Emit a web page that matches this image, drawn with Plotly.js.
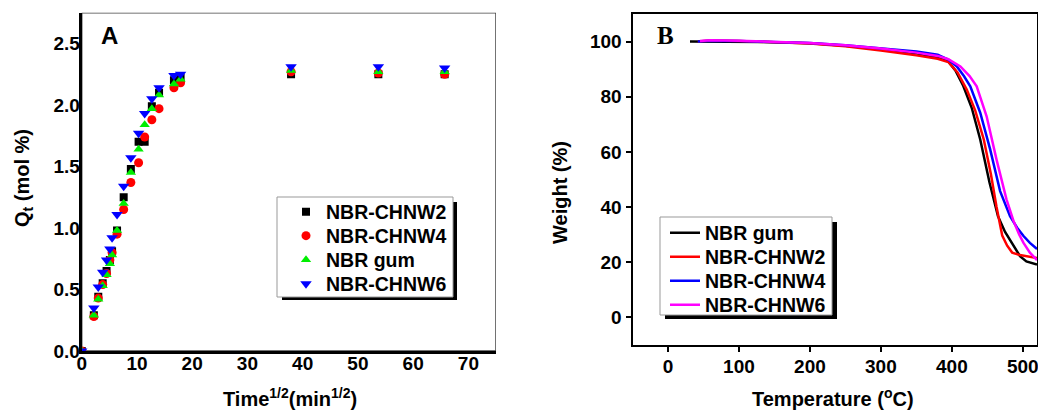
<!DOCTYPE html>
<html>
<head>
<meta charset="utf-8">
<script src="https://cdn.plot.ly/plotly-3.0.1.min.js"></script>
<style>html,body{margin:0;padding:0;background:#fff;}#chart{width:1038px;height:411px;}</style>
</head>
<body>
<div id="chart"></div>
<script>
// ---------- Panel A data (sorption, Time^1/2 in min^1/2) ----------
const timeA = [0, 2.2, 3.0, 3.8, 4.5, 5.1, 5.5, 6.4, 7.6, 8.9, 10.3, 11.4, 12.7, 14.0, 16.7, 17.9, 37.9, 53.7, 65.7];
const chnw2A = [0, 0.29, 0.44, 0.55, 0.65, 0.74, 0.81, 0.98, 1.25, 1.48, 1.70, 1.70, 1.99, 2.10, 2.20, 2.22, 2.25, 2.25, 2.25];
const chnw4A = [0, 0.28, 0.43, 0.54, 0.63, 0.74, 0.80, 0.95, 1.15, 1.37, 1.53, 1.74, 1.88, 1.97, 2.14, 2.18, 2.27, 2.26, 2.25];
const gumA   = [0, 0.29, 0.42, 0.53, 0.62, 0.71, 0.78, 0.98, 1.20, 1.45, 1.64, 1.84, 1.97, 2.08, 2.17, 2.21, 2.28, 2.27, 2.27];
const chnw6A = [0, 0.35, 0.52, 0.64, 0.74, 0.83, 0.92, 1.11, 1.34, 1.57, 1.77, 1.93, 2.05, 2.14, 2.24, 2.25, 2.31, 2.31, 2.30];
const namesA = ["NBR-CHNW2", "NBR-CHNW4", "NBR gum", "NBR-CHNW6"];

// ---------- Panel B data (TGA) ----------
const tempGum = [31, 50, 100, 150, 200, 250, 300, 350, 380, 395, 405, 416, 428, 440, 453, 465, 475, 482, 490, 496, 505, 520];
const wGum    = [100, 100, 100, 99.8, 99.4, 98.5, 97.3, 95.8, 94.3, 92.8, 89.5, 84, 76, 64.5, 49, 36.7, 31, 28, 24.5, 22.2, 20.3, 19.2];
const tempC2  = [42, 60, 100, 150, 200, 250, 300, 350, 380, 395, 408, 421, 433, 445, 455, 463, 471, 478, 485, 496, 508, 520];
const wC2     = [100, 100.4, 100.2, 99.8, 99.3, 98.3, 96.8, 95, 93.8, 92.6, 88.8, 82.6, 75, 64.5, 52, 40, 29.7, 26, 23.5, 22.6, 22, 21.5];
const tempC4  = [42, 60, 100, 150, 200, 250, 300, 350, 380, 395, 407, 417, 426, 440, 454, 468, 482, 492, 501, 510, 520];
const wC4     = [100, 100.3, 100.2, 99.9, 99.5, 98.7, 97.6, 96.4, 95.2, 93.5, 91, 87.5, 83.8, 74.2, 60.9, 45.8, 36.7, 32.5, 29.5, 27, 24.8];
const tempC6  = [45, 60, 100, 150, 200, 250, 300, 350, 380, 395, 412, 425, 435, 449, 463, 477, 487, 495, 501, 510, 520];
const wC6     = [100.2, 100.5, 100.3, 100, 99.5, 98.7, 97.5, 96, 94.8, 93.6, 91, 87.5, 83.8, 72.9, 57.2, 42.8, 34.9, 30, 27, 23.5, 20.8];
const namesB = ["NBR gum", "NBR-CHNW2", "NBR-CHNW4", "NBR-CHNW6"];

const W = 1038, H = 411;
const fx = p => p / W;
const fy = p => 1 - p / H;
const SANS = "Liberation Sans, Arial, sans-serif";
const tickFont = {family: SANS, size: 19, color: "#000", weight: "bold"};
const legFont = {family: SANS, size: 19.5, color: "#000", weight: "bold"};

const mk = (x, y, name, color, symbol, size, leg) => ({
  x, y, name, type: "scatter", mode: "markers", xaxis: "x", yaxis: "y", legend: leg,
  marker: {color, symbol, size, line: {width: 0}}
});
const ln = (x, y, name, color, leg) => ({
  x, y, name, type: "scatter", mode: "lines", xaxis: "x2", yaxis: "y2", legend: leg,
  line: {color, width: 2.5}
});

const data = [
  mk(timeA, chnw2A, namesA[0], "#000000", "square", 8, "legend"),
  mk(timeA, chnw4A, namesA[1], "#ff0000", "circle", 9, "legend2"),
  mk(timeA, gumA,   namesA[2], "#00ee00", "triangle-up", 9, "legend3"),
  mk(timeA, chnw6A, namesA[3], "#0000ff", "triangle-down", 10, "legend4"),
  ln(tempGum, wGum, namesB[0], "#000000", "legend5"),
  ln(tempC2,  wC2,  namesB[1], "#ff0000", "legend6"),
  ln(tempC4,  wC4,  namesB[2], "#0000ff", "legend7"),
  ln(tempC6,  wC6,  namesB[3], "#ff00ff", "legend8")
];

function rectPx(x0, y0, x1, y1, fill, lineColor, lw) {
  return {type: "rect", xref: "paper", yref: "paper", layer: "above",
    x0: fx(x0), x1: fx(x1), y0: fy(y1), y1: fy(y0),
    fillcolor: fill, line: {color: lineColor, width: lw}};
}
function legAt(xPx, yPx) {
  return {x: fx(xPx), y: fy(yPx), xanchor: "left", yanchor: "middle", bgcolor: "rgba(0,0,0,0)",
    borderwidth: 0, font: legFont, tracegroupgap: 0};
}

const layout = {
  width: W, height: H,
  margin: {l: 0, r: 0, t: 0, b: 0},
  paper_bgcolor: "#ffffff", plot_bgcolor: "#ffffff",
  showlegend: true,
  xaxis: {domain: [fx(81.7), fx(496)], range: [0, 75], anchor: "y",
    showline: true, linecolor: "#000", linewidth: 3, ticks: "", dtick: 10, tick0: 0,
    showgrid: false, zeroline: false, tickfont: tickFont, ticklabelstandoff: -7},
  yaxis: {domain: [fy(351), fy(12.7)], range: [0, 2.75], anchor: "x",
    showline: true, linecolor: "#000", linewidth: 3, ticks: "", dtick: 0.5, tick0: 0, tickformat: ".1f",
    showgrid: false, zeroline: false, tickfont: tickFont, ticklabelstandoff: -5},
  xaxis2: {domain: [fx(632.5), fx(1037)], range: [-50, 520], anchor: "y2",
    showline: true, mirror: true, linecolor: "#000", linewidth: 2, ticks: "outside", ticklen: 5, tickwidth: 2, tickcolor: "#000",
    dtick: 100, tick0: 0, showgrid: false, zeroline: false, tickfont: tickFont, ticklabeloverflow: "allow",
    ticklabelstandoff: -2},
  yaxis2: {domain: [fy(345), fy(14)], range: [-10, 110], anchor: "x2",
    showline: true, mirror: true, linecolor: "#000", linewidth: 2, ticks: "outside", ticklen: 5, tickwidth: 2, tickcolor: "#000",
    dtick: 20, tick0: 0, showgrid: false, zeroline: false, tickfont: tickFont},
  legend:  legAt(286, 212),
  legend2: legAt(286, 236),
  legend3: legAt(286, 260),
  legend4: legAt(286, 284),
  legend5: legAt(665, 233),
  legend6: legAt(665, 257),
  legend7: legAt(665, 281),
  legend8: legAt(665, 305),
  shapes: [
    // panel A thin frame (top / right)
    {type: "rect", xref: "x", yref: "y", x0: 0, x1: 75, y0: 0, y1: 2.75, layer: "below", line: {color: "#444", width: 1.5}},
    // legend A shadow + box
    rectPx(282, 202, 457, 300, "#000", "#000", 0),
    rectPx(277, 197, 453, 297, "#fff", "#999", 1),
    // legend B shadow + box
    rectPx(665, 222, 837, 319, "#000", "#000", 0),
    rectPx(660, 217, 832, 315, "#fff", "#999", 1)
  ],
  annotations: [
    {text: "A", xref: "paper", yref: "paper", x: fx(109), y: fy(35), showarrow: false, xanchor: "center", yanchor: "middle",
      font: {family: SANS, size: 24, color: "#000", weight: "bold"}},
    {text: "B", xref: "paper", yref: "paper", x: fx(665), y: fy(35), showarrow: false, xanchor: "center", yanchor: "middle",
      font: {family: "Liberation Serif, Times New Roman, serif", size: 25, color: "#000", weight: "bold"}},
    {text: "Time<sup>1/2</sup>(min<sup>1/2</sup>)", xref: "paper", yref: "paper", x: fx(290), y: fy(397), showarrow: false,
      xanchor: "center", yanchor: "middle", font: {family: SANS, size: 20, color: "#000", weight: "bold"}},
    {text: "Temperature (<sup>o</sup>C)", xref: "paper", yref: "paper", x: fx(833), y: fy(397), showarrow: false,
      xanchor: "center", yanchor: "middle", font: {family: SANS, size: 20, color: "#000", weight: "bold"}},
    {text: "Q<sub>t</sub> (mol %)", xref: "paper", yref: "paper", x: fx(23), y: fy(178), showarrow: false, textangle: -90,
      xanchor: "center", yanchor: "middle", font: {family: SANS, size: 20, color: "#000", weight: "bold"}},
    {text: "Weight (%)", xref: "paper", yref: "paper", x: fx(560), y: fy(193), showarrow: false, textangle: -90,
      xanchor: "center", yanchor: "middle", font: {family: SANS, size: 20, color: "#000", weight: "bold"}}
  ]
};

Plotly.newPlot("chart", data, layout, {displayModeBar: false, staticPlot: true});
</script>
</body>
</html>
